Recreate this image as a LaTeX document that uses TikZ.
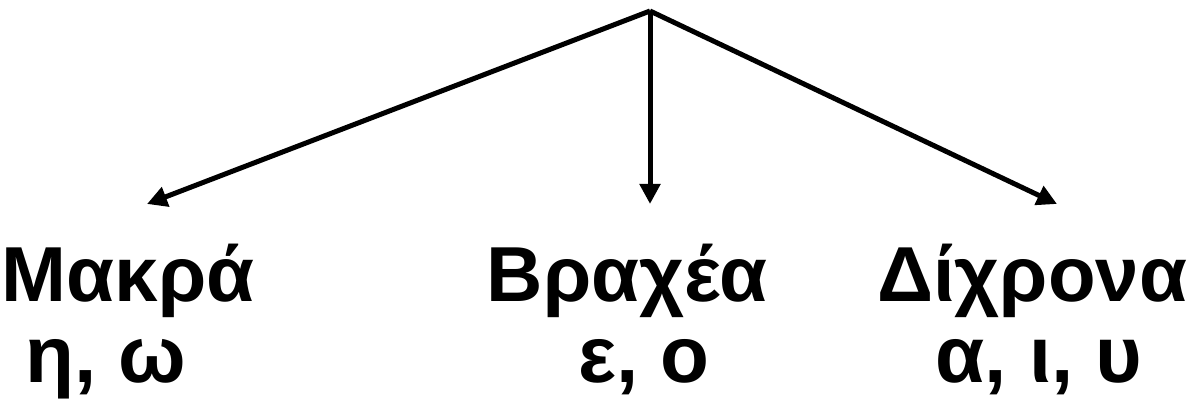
\documentclass[tikz,border=0pt]{standalone}
\usepackage{fontspec}
\setmainfont{Liberation Sans}
\usetikzlibrary{arrows.meta}

\begin{document}
\begin{tikzpicture}[x=0.5pt, y=-0.5pt, >={Triangle[length=10pt, width=10pt]},
  branch/.style={->, line width=2.5pt},
  title/.style={anchor=base, font=\fontsize{39}{44}\selectfont\bfseries, inner sep=0pt},
  vowels/.style={anchor=base, font=\fontsize{40}{44}\selectfont\bfseries, inner sep=0pt}]
\useasboundingbox (0,0) rectangle (1192,399);

% Apex and arrow tips
\coordinate (apex) at (650,11);
\coordinate (tipL) at (147,204);
\coordinate (tipM) at (650,204);
\coordinate (tipR) at (1057,204);

% Three branches
\draw[branch] (apex) -- (tipL);
\draw[branch] (apex) -- (tipM);
\draw[branch] (apex) -- (tipR);

% Labels
\node[title] (long) at (128,302) {Μακρά};
\node[vowels] (longv) at (106,383) {η, ω};

\node[title] (short) at (627,302) {Βραχέα};
\node[vowels] (shortv) at (644,383) {ε, ο};

\node[title] (both) at (1032,302) {Δίχρονα};
\node[vowels] (bothv) at (1039,383) {α, ι, υ};
\end{tikzpicture}
\end{document}
